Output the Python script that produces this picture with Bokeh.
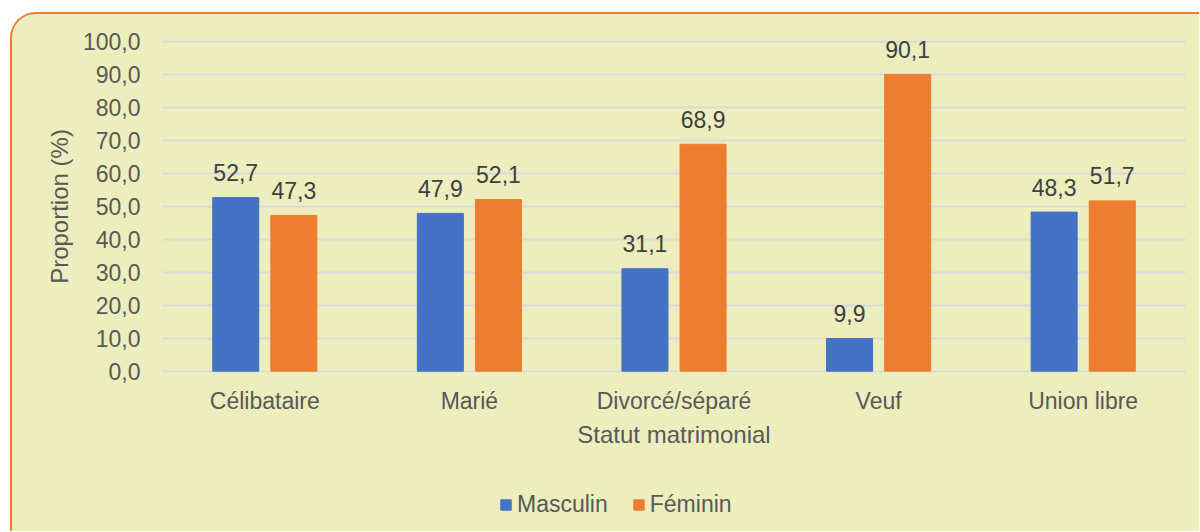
from bokeh.plotting import figure
from bokeh.layouts import column
from bokeh.models import FactorRange, Range1d, ColumnDataSource, CustomJSTickFormatter, Legend, LegendItem
from bokeh.transform import dodge
from bokeh.core.properties import value
from bokeh.embed import file_html
from bokeh.resources import INLINE

categories = ["Célibataire", "Marié", "Divorcé/séparé", "Veuf", "Union libre"]
masculin = [52.7, 47.9, 31.1, 9.9, 48.3]
feminin = [47.3, 52.1, 68.9, 90.1, 51.7]
series_names = ["Masculin", "Féminin"]
y_title = "Proportion (%)"
x_title = "Statut matrimonial"

BLUE = "#4472C4"
ORANGE = "#ED7D31"
BG = "#EDEEBD"
FONT = "Liberation Sans"
AXIS_TXT = "#595959"
LBL_TXT = "#404040"


def fr(v):
    return f"{v:.1f}".replace(".", ",")


src = ColumnDataSource(dict(
    cat=categories, m=masculin, f=feminin,
    ml=[fr(v) for v in masculin], fl=[fr(v) for v in feminin],
))

# ---- main chart ----
p = figure(
    x_range=FactorRange(*categories), y_range=Range1d(-0.4, 100.4),
    width=1187, height=448, output_backend="svg", toolbar_location=None,
    min_border_left=150, min_border_right=14, min_border_top=26, min_border_bottom=90,
)
p.background_fill_color = BG
p.border_fill_color = BG
p.outline_line_color = None

off = 0.142
w = 0.225
p.vbar(x=dodge("cat", -off, range=p.x_range), top="m", width=w, source=src, color=BLUE)
p.vbar(x=dodge("cat", off, range=p.x_range), top="f", width=w, source=src, color=ORANGE)

p.text(x=dodge("cat", -off, range=p.x_range), y="m", text="ml", source=src,
       text_align="center", text_baseline="alphabetic", y_offset=-25,
       text_font=value(FONT), text_font_size="23px", text_color=LBL_TXT)
p.text(x=dodge("cat", off, range=p.x_range), y="f", text="fl", source=src,
       text_align="center", text_baseline="alphabetic", y_offset=-25,
       text_font=value(FONT), text_font_size="23px", text_color=LBL_TXT)

p.yaxis.ticker = list(range(0, 101, 10))
p.yaxis.formatter = CustomJSTickFormatter(code="return tick.toFixed(1).replace('.', ',');")
p.yaxis.axis_label = y_title
p.xaxis.axis_label = x_title
for ax in (p.xaxis[0], p.yaxis[0]):
    ax.axis_line_color = None
    ax.major_tick_line_color = None
    ax.minor_tick_line_color = None
    ax.major_tick_out = 0
    ax.major_tick_in = 0
    ax.minor_tick_out = 0
    ax.minor_tick_in = 0
    ax.major_label_text_font = FONT
    ax.major_label_text_font_size = "23px"
    ax.major_label_text_color = AXIS_TXT
    ax.axis_label_text_font = FONT
    ax.axis_label_text_font_size = "24px"
    ax.axis_label_text_font_style = "normal"
    ax.axis_label_text_color = AXIS_TXT
p.yaxis.major_label_standoff = 22
p.yaxis.axis_label_standoff = 7
p.xaxis.major_label_standoff = 15
p.xaxis.axis_label_standoff = 4

p.xgrid.grid_line_color = None
p.ygrid.grid_line_color = "#D9D9D9"
p.ygrid.grid_line_width = 2

# ---- legend strip (frame aligned with the chart's frame) ----
q = figure(
    width=1187, height=69, output_backend="svg", toolbar_location=None,
    x_axis_location=None, y_axis_location=None, min_border=0,
)
q.background_fill_color = BG
q.border_fill_color = BG
q.outline_line_color = None
q.grid.visible = False
lm = q.vbar(x="m", top="m", width=0.5, source=src, color=BLUE, visible=False)
lf = q.vbar(x="f", top="f", width=0.5, source=src, color=ORANGE, visible=False)

legend = Legend(
    items=[LegendItem(label=series_names[0], renderers=[lm]),
           LegendItem(label=series_names[1], renderers=[lf])],
    location=(337, 13), orientation="horizontal",
    label_text_font=FONT, label_text_font_size="23px", label_text_color=AXIS_TXT,
    glyph_width=13, glyph_height=13, label_standoff=5, spacing=24,
    padding=0, margin=0, border_line_color=None, background_fill_alpha=0,
    inactive_fill_alpha=0,
)
q.add_layout(legend, "center")

layout = column(p, q, spacing=0)
layout.styles = {
    "margin-left": "10px",
    "margin-top": "12px",
    "border-left": "2px solid #ED7D31",
    "border-top": "2px solid #ED7D31",
    "border-top-left-radius": "26px",
    "overflow": "hidden",
    "background-color": BG,
}

open("out.html", "w").write(file_html(layout, INLINE))
